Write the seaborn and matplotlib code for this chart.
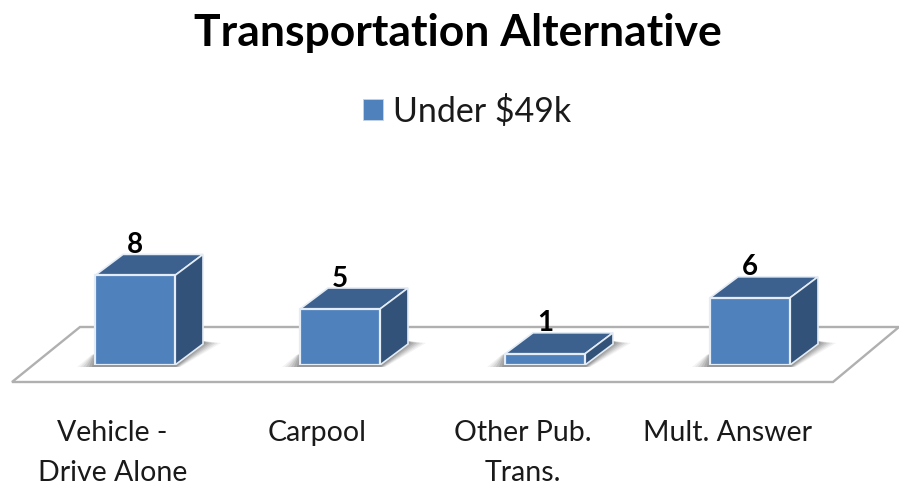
import matplotlib
matplotlib.use("Agg")
import matplotlib.pyplot as plt
from matplotlib.patches import Polygon
import numpy as np
import pandas as pd
import seaborn as sns

categories = ["Vehicle -\nDrive Alone", "Carpool", "Other Pub.\nTrans.", "Mult. Answer"]
values = [8, 5, 1, 6]
series_name = "Under $49k"
title = "Transportation Alternative"

FRONT = "#4f81bd"
TOP = "#3d618e"
SIDE = "#325279"
EDGE = "#e4ecf5"
FLOOR = "#b0b0b0"
TEXT = "#1a1a1a"

W, H = 899, 487
sns.set_theme(style="white")
plt.rcParams["font.family"] = ["Lato", "DejaVu Sans"]

fig = plt.figure(figsize=(W / 100, H / 100), dpi=100)
ax = fig.add_axes([0, 122 / H, 1, 365 / H])
df = pd.DataFrame({"category": categories, "value": values, "series": series_name})
sns.barplot(data=df, x="category", y="value", hue="series", palette=[FRONT], saturation=1,
            width=80 / 205, ax=ax, edgecolor=EDGE, linewidth=1.6, zorder=5, legend=False)

px = 1 / 205          # x data units per pixel
py = 1 / 11.2         # y data units per pixel
ax.set_xlim(-135 * px, (W - 135) * px)
ax.set_ylim(0, 365 * py)
dx, dy = 28 * px, 21 * py

# floor parallelogram
floor = Polygon([(-123 * px, -17 * py), (698 * px, -17 * py), (764 * px, 38 * py), (-55 * px, 38 * py)],
                closed=True, facecolor="white", edgecolor=FLOOR, linewidth=1.7,
                zorder=1, clip_on=False, joinstyle="miter")
ax.add_patch(floor)

# extrude each bar from its own geometry
for bar in list(ax.patches):
    if bar is floor:
        continue
    x0, w, h = bar.get_x(), bar.get_width(), bar.get_height()
    x1 = x0 + w
    # soft floor shadow, built up in layers that shrink toward the bar
    for s_px, alpha in zip([18, 15, 12, 9, 6, 3], [0.06, 0.08, 0.10, 0.12, 0.14, 0.16]):
        s = s_px * px
        ax.add_patch(Polygon([(x0 - s, -2 * py), (x1 + 0.3 * s, -2 * py),
                              (x1 + dx + s, dy + 1 * py), (x1 + dx, dy + 3 * py),
                              (x0 + dx, dy + 3 * py), (x0 - 0.2 * s, 10 * py)],
                             closed=True, facecolor="#3a3a3a", edgecolor="none",
                             alpha=alpha, zorder=2, clip_on=False))
    ax.add_patch(Polygon([(x0, h), (x1, h), (x1 + dx, h + dy), (x0 + dx, h + dy)], closed=True,
                         facecolor=TOP, edgecolor=EDGE, linewidth=1.2, zorder=4))
    ax.add_patch(Polygon([(x1, 0), (x1 + dx, dy), (x1 + dx, h + dy), (x1, h)], closed=True,
                         facecolor=SIDE, edgecolor=EDGE, linewidth=1.2, zorder=4))

# value labels
for bar, v in zip(ax.containers[0], values):
    ax.annotate(str(v), (bar.get_x() + bar.get_width() / 2, bar.get_height()),
                xytext=(0, 12.5), textcoords="offset points", ha="center", va="bottom",
                fontsize=20, fontweight="bold", color="black", zorder=8)

# category labels, set left of the bars as in the reference
ax.set_xticks(np.arange(len(categories)) - 22.5 * px, categories)
ax.tick_params(axis="x", length=0, pad=39.5, labelsize=20.5, labelcolor=TEXT)
for lab in ax.get_xticklabels():
    lab.set_linespacing(1.68)
    lab.set_va("top")
ax.set_yticks([])
ax.set_xlabel("")
ax.set_ylabel("")
sns.despine(ax=ax, left=True, bottom=True, top=True, right=True)
ax.patch.set_visible(False)

fig.suptitle(title, x=458 / W, y=1 - 33 / H, va="center", ha="center",
             fontsize=32, fontweight="bold", color="black")

handle = plt.Rectangle((0, 0), 1, 1, facecolor=FRONT, edgecolor="#c5d4e6", linewidth=0.6)
fig.legend([handle], [series_name], loc="center", bbox_to_anchor=(467 / W, 1 - 111 / H),
           frameon=False, fontsize=24.5, labelcolor=TEXT, handlelength=0.58, handleheight=0.58,
           handletextpad=0.3)

fig.savefig("out.png", dpi=100, facecolor="white")
